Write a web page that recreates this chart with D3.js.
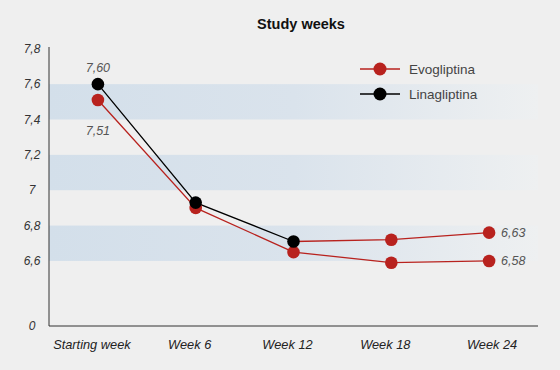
<!DOCTYPE html>
<html>
<head>
<meta charset="utf-8">
<script src="https://cdn.jsdelivr.net/npm/d3@7"></script>
<style>
  body { margin: 0; background: #efefef; }
  svg { display: block; font-family: "Liberation Sans", Arial, sans-serif; }
</style>
</head>
<body>
<div id="container"></div>
<script>
// chart data
const weeks = ["Starting week", "Week 6", "Week 12", "Week 18", "Week 24"];
const evogliptina = [7.51, 6.90, 6.65, 6.59, 6.60];
const linagliptina = [7.60, 6.93, 6.71, 6.72, 6.76];
const evoLabels = ["7,51", null, null, null, "6,58"];
const linaLabels = ["7,60", null, null, null, "6,63"];
const yTicks = [6.6, 6.8, 7, 7.2, 7.4, 7.6, 7.8];
const bands = [[7.4, 7.6], [7.0, 7.2], [6.6, 6.8]];

const width = 560, height = 370;
const margin = {top: 47, right: 22, bottom: 44, left: 49};
const red = "#b8221e";

const svg = d3.select("#container").append("svg")
    .attr("width", width)
    .attr("height", height);

svg.append("rect").attr("width", width).attr("height", height).attr("fill", "#efefef");

let defs = svg.append("defs");
let grad = defs.append("linearGradient").attr("id", "bandGrad")
    .attr("x1", "0%").attr("x2", "100%").attr("y1", "0%").attr("y2", "0%");
grad.append("stop").attr("offset", "0%").attr("stop-color", "#d3dfea");
grad.append("stop").attr("offset", "50%").attr("stop-color", "#dae3ec");
grad.append("stop").attr("offset", "100%").attr("stop-color", "#eef0f1");

const x = d3.scalePoint()
    .domain(weeks)
    .range([margin.left, width - margin.right])
    .padding(0.5);

// the axis is cut: bottom tick reads "0" but sits just under 6.6
const yMin = 6.232;
const y = d3.scaleLinear()
    .domain([yMin, 7.81])
    .range([height - margin.bottom, margin.top]);

// bands
svg.append("g").selectAll("rect")
    .data(bands)
    .join("rect")
    .attr("x", margin.left)
    .attr("width", width - margin.right - margin.left)
    .attr("y", d => y(d[1]))
    .attr("height", d => y(d[0]) - y(d[1]))
    .attr("fill", "url(#bandGrad)");

// title
svg.append("text")
    .attr("x", 301).attr("y", 29)
    .attr("text-anchor", "middle")
    .attr("font-weight", "bold")
    .attr("font-size", 14.5)
    .attr("fill", "#111")
    .text("Study weeks");

// y axis labels
const yLab = svg.append("g")
    .attr("font-size", 12)
    .attr("font-style", "italic")
    .attr("fill", "#333")
    .attr("text-anchor", "middle");
yLab.selectAll("text")
    .data(yTicks)
    .join("text")
    .attr("x", 32)
    .attr("y", d => y(d))
    .attr("dy", "0.35em")
    .text(d => d3.format(".1~f")(d).replace(".", ","));
yLab.append("text")
    .attr("x", 32).attr("y", y(yMin)).attr("dy", "0.35em")
    .text("0");

// x axis labels
svg.append("g")
    .attr("font-size", 12.8)
    .attr("font-style", "italic")
    .attr("fill", "#222")
    .attr("text-anchor", "middle")
    .selectAll("text")
    .data(weeks)
    .join("text")
    .attr("x", (d, i) => x(d) - (i === 0 ? 6 : i === 4 ? -3 : 6))
    .attr("y", height - margin.bottom + 23)
    .text(d => d);

// axis lines
svg.append("path")
    .attr("d", `M${margin.left},${margin.top}V${y(yMin)}H${width - margin.right}`)
    .attr("fill", "none")
    .attr("stroke", "#333")
    .attr("stroke-width", 1);

const line = d3.line().x((d, i) => x(weeks[i])).y(d => y(d));

// Evogliptina
svg.append("path")
    .datum(evogliptina)
    .attr("d", line)
    .attr("fill", "none")
    .attr("stroke", red)
    .attr("stroke-width", 1.3);

// Linagliptina: black up to week 12, then drawn red
const linaPts = linagliptina.map((v, i) => [x(weeks[i]), y(v)]);
svg.append("path")
    .attr("d", d3.line()(linaPts.slice(0, 3)))
    .attr("fill", "none").attr("stroke", "#000").attr("stroke-width", 1.3);
svg.append("path")
    .attr("d", d3.line()(linaPts.slice(2)))
    .attr("fill", "none").attr("stroke", red).attr("stroke-width", 1.3);

svg.append("g").selectAll("circle")
    .data(evogliptina)
    .join("circle")
    .attr("cx", (d, i) => x(weeks[i]))
    .attr("cy", d => y(d))
    .attr("r", 6.3)
    .attr("fill", red);

svg.append("g").selectAll("circle")
    .data(linagliptina)
    .join("circle")
    .attr("cx", (d, i) => x(weeks[i]))
    .attr("cy", d => y(d))
    .attr("r", 6.3)
    .attr("fill", (d, i) => i <= 2 ? "#000" : red);

// value labels
const valG = svg.append("g")
    .attr("font-size", 12.5)
    .attr("font-style", "italic")
    .attr("fill", "#555");
linaLabels.forEach((t, i) => {
    if (!t) return;
    let cx = x(weeks[i]), cy = y(linagliptina[i]);
    valG.append("text")
        .attr("x", i === 0 ? cx : cx + 12)
        .attr("y", i === 0 ? cy - 12 : cy)
        .attr("dy", i === 0 ? "0" : "0.35em")
        .attr("text-anchor", i === 0 ? "middle" : "start")
        .text(t);
});
evoLabels.forEach((t, i) => {
    if (!t) return;
    let cx = x(weeks[i]), cy = y(evogliptina[i]);
    valG.append("text")
        .attr("x", i === 0 ? cx : cx + 12)
        .attr("y", i === 0 ? cy + 35 : cy)
        .attr("dy", i === 0 ? "0" : "0.35em")
        .attr("text-anchor", i === 0 ? "middle" : "start")
        .text(t);
});

// legend
const legend = svg.append("g").attr("transform", "translate(360,69)");
const legendItems = [["Evogliptina", red], ["Linagliptina", "#000"]];
legendItems.forEach(([name, col], i) => {
    let g = legend.append("g").attr("transform", `translate(0,${i * 25})`);
    g.append("line").attr("x1", 0).attr("x2", 40)
        .attr("stroke", col).attr("stroke-width", 1.3);
    g.append("circle").attr("cx", 20).attr("r", 6.5).attr("fill", col);
    g.append("text").attr("x", 49).attr("dy", "0.35em")
        .attr("font-size", 13.5).attr("fill", "#444").text(name);
});
</script>
</body>
</html>
